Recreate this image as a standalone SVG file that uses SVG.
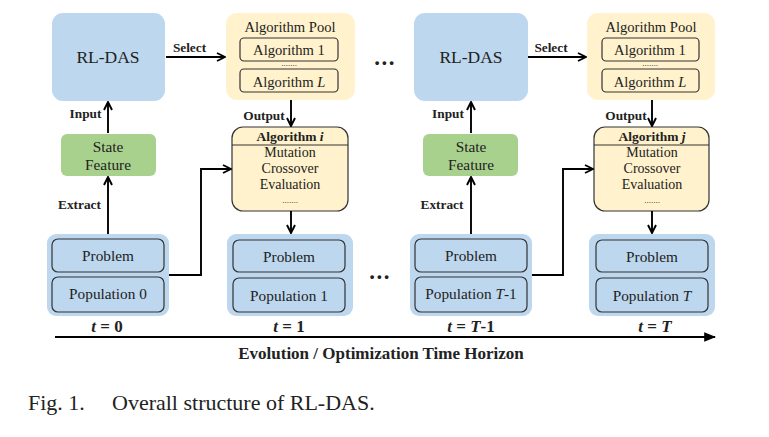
<svg xmlns="http://www.w3.org/2000/svg" width="769" height="437" viewBox="0 0 769 437" font-family="'Liberation Serif', 'DejaVu Serif', serif">
<defs>
<marker id="ah" viewBox="0 0 10 10" refX="9" refY="5" markerWidth="10" markerHeight="10" markerUnits="userSpaceOnUse" orient="auto">
<path d="M1,1 L9,5 L1,9" fill="none" stroke="#000" stroke-width="1.9"/>
</marker>
<marker id="ah2" viewBox="0 0 10 10" refX="9" refY="5" markerWidth="12" markerHeight="12" markerUnits="userSpaceOnUse" orient="auto">
<path d="M0,1 L10,5 L0,9 Z" fill="#000"/>
</marker>
<style>
text{font-family:'Liberation Serif','DejaVu Serif',serif;fill:#222;}
.rl{fill:#bdd7ee;}
.pool{fill:#fff2cc;}
.state{fill:#a9d18e;}
.inner{fill:#fff2cc;stroke:#333;stroke-width:1.2;}
.alg{fill:#fff2cc;stroke:#333;stroke-width:1.2;}
.outer{fill:#bdd7ee;}
.cell{fill:#bdd7ee;stroke:#333;stroke-width:1.2;}
.t15{font-size:15.3px;text-anchor:middle;}
.t14{font-size:14.6px;text-anchor:middle;}
.t13{font-size:14px;text-anchor:middle;}
.sd{font-size:9px;text-anchor:middle;}
.lab{font-size:13.3px;font-weight:bold;text-anchor:middle;}
.big{font-size:17.5px;text-anchor:middle;}
.tl{font-size:17px;font-weight:bold;text-anchor:middle;}
.dots{font-size:23px;font-weight:bold;text-anchor:middle;letter-spacing:1.5px;}
.line{fill:none;stroke:#000;stroke-width:1.9;}
.cap{font-size:22px;}
</style>
</defs>
<rect width="769" height="437" fill="#fff"/>

<g id="rldas0"><rect class="rl" x="52" y="13" width="113" height="88" rx="11"/><text class="big" x="108" y="63">RL-DAS</text></g>
<g id="pool0"><rect class="pool" x="226" y="13" width="129" height="87" rx="11"/>
<text class="t14" x="290" y="31.5">Algorithm Pool</text>
<rect class="inner" x="240" y="38" width="98" height="23" rx="4"/><text class="t14" x="289" y="54.5">Algorithm 1</text>
<text class="sd" x="289" y="66">.......</text>
<rect class="inner" x="240" y="69" width="98" height="23" rx="4"/><text class="t14" x="289" y="86.5">Algorithm <tspan font-style="italic">L</tspan></text></g>
<g id="state0"><rect class="state" x="61" y="134" width="95" height="42" rx="6"/><text class="t15" x="108" y="152">State</text><text class="t15" x="108" y="170">Feature</text></g>
<g id="algi"><rect class="alg" x="232" y="127" width="116" height="84" rx="11"/><line x1="232" y1="145" x2="348" y2="145" stroke="#333" stroke-width="1.2"/>
<text class="t13" x="290" y="141" font-weight="bold" style="font-size:13.5px">Algorithm <tspan font-style="italic">i</tspan></text>
<text class="t13" x="290" y="157">Mutation</text><text class="t13" x="290" y="173">Crossover</text><text class="t13" x="290" y="189">Evaluation</text><text class="sd" x="290" y="203">.......</text></g>
<g id="pop0"><rect class="outer" x="47" y="234" width="122" height="82" rx="9"/>
<rect class="cell" x="52" y="239" width="112" height="33" rx="6"/><text class="t15" x="108" y="261">Problem</text>
<rect class="cell" x="52" y="277" width="112" height="35" rx="6"/><text class="t15" x="108" y="298.5">Population 0</text></g>
<g id="pop1"><rect class="outer" x="227" y="234" width="126" height="82" rx="9"/>
<rect class="cell" x="233" y="240" width="112" height="32" rx="6"/><text class="t15" x="289" y="262">Problem</text>
<rect class="cell" x="233" y="278" width="112" height="34" rx="6"/><text class="t15" x="289" y="300.5">Population 1</text></g>

<g id="rldas1"><rect class="rl" x="414" y="13" width="114" height="88" rx="11"/><text class="big" x="471" y="63">RL-DAS</text></g>
<g id="pool1"><rect class="pool" x="587" y="13" width="128" height="87" rx="11"/>
<text class="t14" x="651" y="31.5">Algorithm Pool</text>
<rect class="inner" x="602" y="38" width="97" height="23" rx="4"/><text class="t14" x="650" y="54.5">Algorithm 1</text>
<text class="sd" x="650" y="66">.......</text>
<rect class="inner" x="602" y="69" width="97" height="23" rx="4"/><text class="t14" x="650" y="86.5">Algorithm <tspan font-style="italic">L</tspan></text></g>
<g id="state1"><rect class="state" x="423" y="134" width="95" height="42" rx="6"/><text class="t15" x="471" y="152">State</text><text class="t15" x="471" y="170">Feature</text></g>
<g id="algj"><rect class="alg" x="594" y="127" width="115" height="84" rx="11"/><line x1="594" y1="145" x2="709" y2="145" stroke="#333" stroke-width="1.2"/>
<text class="t13" x="652" y="141" font-weight="bold" style="font-size:13.5px">Algorithm <tspan font-style="italic">j</tspan></text>
<text class="t13" x="652" y="157">Mutation</text><text class="t13" x="652" y="173">Crossover</text><text class="t13" x="652" y="189">Evaluation</text><text class="sd" x="652" y="203">.......</text></g>
<g id="popT1"><rect class="outer" x="410" y="234" width="122" height="82" rx="9"/>
<rect class="cell" x="415" y="239" width="112" height="33" rx="6"/><text class="t15" x="471" y="261">Problem</text>
<rect class="cell" x="415" y="277" width="112" height="35" rx="6"/><text class="t15" x="471" y="299">Population <tspan font-style="italic">T</tspan>-1</text></g>
<g id="popT"><rect class="outer" x="589" y="234" width="126" height="82" rx="9"/>
<rect class="cell" x="596" y="240" width="112" height="32" rx="6"/><text class="t15" x="652" y="262">Problem</text>
<rect class="cell" x="596" y="278" width="112" height="34" rx="6"/><text class="t15" x="652" y="300.5">Population <tspan font-style="italic">T</tspan></text></g>

<g id="connectors">
<line class="line" x1="166" y1="57" x2="225" y2="57" marker-end="url(#ah)"/>
<line class="line" x1="108" y1="133" x2="108" y2="102" marker-end="url(#ah)"/>
<line class="line" x1="108" y1="234" x2="108" y2="177" marker-end="url(#ah)"/>
<line class="line" x1="291" y1="100" x2="291" y2="126" marker-end="url(#ah)"/>
<line class="line" x1="291" y1="211" x2="291" y2="233" marker-end="url(#ah)"/>
<polyline class="line" points="169,275 201,275 201,169 231,169" marker-end="url(#ah)"/>
<line class="line" x1="528" y1="57" x2="586" y2="57" marker-end="url(#ah)"/>
<line class="line" x1="471" y1="133" x2="471" y2="102" marker-end="url(#ah)"/>
<line class="line" x1="471" y1="234" x2="471" y2="177" marker-end="url(#ah)"/>
<line class="line" x1="652" y1="100" x2="652" y2="126" marker-end="url(#ah)"/>
<line class="line" x1="652" y1="211" x2="652" y2="233" marker-end="url(#ah)"/>
<polyline class="line" points="532,275 563,275 563,169 593,169" marker-end="url(#ah)"/>
<line x1="55" y1="337" x2="715" y2="337" stroke="#000" stroke-width="1.9" marker-end="url(#ah2)"/>
</g>

<g id="labels">
<text class="lab" x="189.5" y="51.5">Select</text>
<text class="lab" x="551" y="52">Select</text>
<text class="lab" x="85.5" y="117.5">Input</text>
<text class="lab" x="448" y="117.5">Input</text>
<text class="lab" x="264" y="119.5">Output</text>
<text class="lab" x="626" y="119.5">Output</text>
<text class="lab" x="79.5" y="208.5">Extract</text>
<text class="lab" x="442" y="208.5">Extract</text>
<text class="dots" x="385" y="65">...</text>
<text class="dots" x="380" y="279">...</text>
<text class="tl" x="107" y="332"><tspan font-style="italic">t</tspan> = 0</text>
<text class="tl" x="289" y="332"><tspan font-style="italic">t</tspan> = 1</text>
<text class="tl" x="471" y="332"><tspan font-style="italic">t</tspan> = <tspan font-style="italic">T</tspan>-1</text>
<text class="tl" x="655" y="332"><tspan font-style="italic">t</tspan> = <tspan font-style="italic">T</tspan></text>
<text class="tl" x="381" y="359">Evolution / Optimization Time Horizon</text>
<text class="cap" x="28" y="410">Fig. 1.</text>
<text class="cap" x="112" y="410">Overall structure of RL-DAS.</text>
</g>
</svg>
